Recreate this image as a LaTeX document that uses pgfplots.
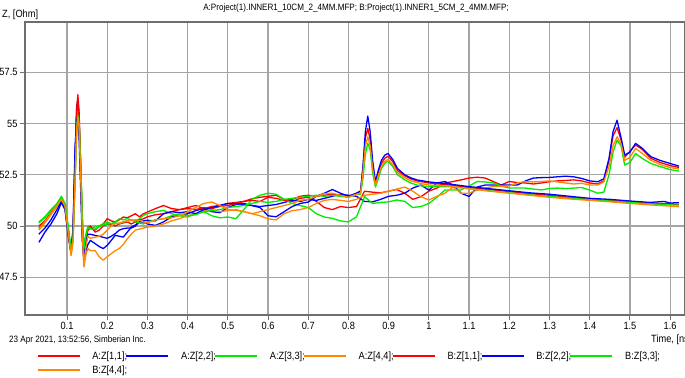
\documentclass[border=0pt]{standalone}
\usepackage{fontspec}
\setmainfont{Liberation Sans}[FakeStretch=0.88]
\usepackage{pgfplots}
\pgfplotsset{compat=1.18}
\newcommand\lbl{\fontsize{10.5bp}{12bp}\selectfont}
\newcommand\ttl{\fontsize{9.2bp}{11bp}\selectfont}
\newcommand\stamp{\fontsize{9.2bp}{11bp}\selectfont}
\definecolor{zred}{RGB}{255,0,0}
\definecolor{zblue}{RGB}{0,0,255}
\definecolor{zgreen}{RGB}{0,235,0}
\definecolor{zorange}{RGB}{255,136,0}
\definecolor{gridgray}{RGB}{165,165,165}
\definecolor{framegray}{RGB}{110,110,110}
\begin{document}
\begin{tikzpicture}[x=1bp,y=1bp]
\path[use as bounding box] (0,0) rectangle (685,377);
\begin{axis}[
  at={(25bp,62bp)}, anchor=south west,
  scale only axis, width=660bp, height=293bp,
  xmin=-0.0045, xmax=1.637, ymin=45.66, ymax=59.95,
  xtick={0.1,0.2,0.3,0.4,0.5,0.6,0.7,0.8,0.9,1,1.1,1.2,1.3,1.4,1.5,1.6},
  ytick={47.5,50,52.5,55,57.5},
  /pgf/number format/assume math mode=true,
  tick label style={font=\lbl},
  grid=major, major grid style={gridgray, line width=1.2bp},
  axis line style={framegray, line width=1.2bp},
  tick style={framegray, line width=1bp},
  tick align=outside, major tick length=5bp,
  xtick pos=bottom, ytick pos=left,
  every x tick label/.append style={yshift=1bp},
  every y tick label/.append style={xshift=1bp},
  no markers,
  every axis plot/.append style={line width=1.3bp, line join=round},
  legend columns=7,
  legend cell align=left,
  legend image code/.code={\draw[#1] plot coordinates {(0bp,0bp) (21bp,0bp) (42bp,0bp)};},
  legend style={draw=none, fill=none, at={(axis description cs:0,0)},
    anchor=north west, xshift=12bp, yshift=-34.5bp,
    inner sep=0pt, outer sep=0pt, row sep=1bp, font=\lbl,
    /tikz/every odd column/.append style={column sep=10bp},
    /tikz/every even column/.append style={column sep=-3.4bp}},
]
% ---- A: 10 cm line ----
\addplot[zred] coordinates {
(0.03,49.9)(0.045,50.2)(0.06,50.6)(0.075,51.0)(0.086,51.38)(0.095,51.0)(0.103,49.8)(0.11,48.7)(0.115,49.6)(0.12,53.0)(0.124,55.8)(0.127,56.4)(0.13,55.6)(0.134,53.0)(0.138,50.2)(0.142,48.6)(0.147,49.3)(0.152,49.8)(0.158,49.9)
(0.17,49.8)(0.18,50.0)(0.19,50.1)(0.2,50.36)(0.21,50.25)(0.22,50.2)(0.23,50.3)(0.24,50.44)(0.25,50.4)(0.26,50.5)(0.27,50.6)(0.28,50.45)(0.29,50.6)(0.3,50.68)(0.32,50.85)(0.34,51.0)(0.36,50.85)(0.38,50.8)(0.4,50.9)(0.42,51.0)(0.44,50.85)(0.46,50.95)(0.48,51.0)(0.5,51.1)(0.52,51.15)(0.54,51.2)(0.56,51.33)(0.58,51.4)(0.6,51.45)(0.62,51.5)(0.64,51.3)(0.66,51.2)(0.68,51.35)(0.7,51.4)(0.72,51.2)(0.74,50.9)(0.76,50.8)(0.78,50.95)(0.8,50.9)(0.82,50.95)
(0.84,51.7)(0.86,51.65)(0.88,51.62)(0.9,51.7)(0.92,51.78)(0.94,51.6)(0.96,51.3)(0.98,51.43)(1.0,51.7)(1.02,51.85)(1.04,52.1)(1.06,52.17)(1.08,52.25)(1.1,52.34)(1.12,52.38)(1.14,52.34)(1.16,52.17)(1.18,52.0)(1.2,52.17)(1.22,52.12)(1.24,52.1)(1.26,52.05)(1.28,52.1)(1.3,52.16)(1.32,52.2)(1.34,52.22)(1.36,52.25)(1.38,52.2)(1.4,52.1)(1.42,52.05)(1.435,52.2)(1.448,53.2)(1.458,54.4)(1.468,54.8)(1.478,54.2)(1.487,53.35)(1.5,53.65)(1.514,53.95)(1.53,53.75)(1.552,53.3)(1.575,53.1)(1.6,52.95)(1.622,52.85)};
\addlegendentry{A:Z[1,1];}
\addplot[zblue] coordinates {
(0.03,49.2)(0.045,49.7)(0.06,50.1)(0.075,50.6)(0.086,51.15)(0.095,50.8)(0.103,49.5)(0.11,48.75)(0.115,49.8)(0.12,53.5)(0.124,55.7)(0.127,56.1)(0.13,55.1)(0.134,52.2)(0.138,49.5)(0.142,48.3)(0.147,48.8)(0.152,49.1)(0.158,49.3)
(0.17,49.14)(0.18,49.0)(0.19,48.9)(0.2,49.06)(0.21,49.3)(0.22,49.55)(0.23,49.5)(0.24,49.46)(0.25,49.7)(0.26,49.95)(0.27,50.05)(0.28,50.2)(0.29,50.2)(0.3,50.1)(0.32,50.03)(0.34,50.2)(0.36,50.45)(0.38,50.52)(0.4,50.6)(0.42,50.75)(0.44,50.85)(0.46,50.7)(0.48,50.65)(0.5,50.9)(0.52,51.05)(0.54,51.1)(0.56,51.0)(0.58,50.95)(0.6,51.0)(0.62,51.05)(0.64,51.15)(0.66,51.25)(0.68,51.2)(0.7,51.3)(0.72,51.25)(0.74,51.35)(0.76,51.45)(0.78,51.55)(0.8,51.5)(0.82,51.45)
(0.84,51.2)(0.86,51.18)(0.88,51.3)(0.9,51.45)(0.92,51.5)(0.94,51.6)(0.96,51.85)(0.98,52.0)(1.0,51.75)(1.02,52.1)(1.04,52.17)(1.06,52.0)(1.08,51.6)(1.1,51.44)(1.12,51.9)(1.14,52.0)(1.16,52.0)(1.18,52.0)(1.2,52.0)(1.22,52.0)(1.24,52.2)(1.26,52.34)(1.28,52.36)(1.3,52.37)(1.32,52.4)(1.34,52.43)(1.36,52.4)(1.38,52.32)(1.4,52.2)(1.42,52.16)(1.435,52.3)(1.448,53.3)(1.458,54.6)(1.468,55.16)(1.478,54.3)(1.487,53.46)(1.5,53.6)(1.514,54.03)(1.53,53.8)(1.552,53.38)(1.575,53.2)(1.6,53.05)(1.622,52.92)};
\addlegendentry{A:Z[2,2];}
\addplot[zgreen] coordinates {
(0.03,50.2)(0.045,50.45)(0.06,50.8)(0.075,51.1)(0.086,51.45)(0.095,51.1)(0.103,50.0)(0.11,48.9)(0.115,49.5)(0.12,52.5)(0.124,55.0)(0.127,55.5)(0.13,55.2)(0.134,53.2)(0.138,50.6)(0.142,49.0)(0.147,49.6)(0.152,50.0)(0.158,49.9)
(0.17,49.95)(0.18,50.0)(0.19,50.1)(0.2,50.2)(0.21,50.11)(0.22,50.2)(0.23,50.35)(0.24,50.3)(0.25,50.36)(0.26,50.3)(0.27,50.25)(0.28,50.35)(0.29,50.52)(0.3,50.6)(0.32,50.7)(0.34,50.76)(0.36,50.6)(0.38,50.5)(0.4,50.44)(0.42,50.6)(0.44,50.7)(0.46,50.5)(0.48,50.4)(0.5,50.44)(0.52,50.36)(0.54,50.8)(0.56,51.3)(0.58,51.5)(0.6,51.6)(0.62,51.55)(0.64,51.3)(0.66,51.1)(0.68,51.0)(0.7,50.9)(0.72,50.6)(0.74,50.44)(0.76,50.37)(0.78,50.25)(0.8,50.2)(0.82,50.45)
(0.84,51.43)(0.86,51.1)(0.88,51.15)(0.9,51.18)(0.92,51.27)(0.94,51.2)(0.96,50.9)(0.98,50.95)(1.0,51.1)(1.02,51.4)(1.04,51.76)(1.06,51.76)(1.08,51.76)(1.1,51.95)(1.12,52.17)(1.14,52.15)(1.16,52.1)(1.18,51.95)(1.2,51.85)(1.22,51.85)(1.24,51.85)(1.26,51.8)(1.28,51.76)(1.3,51.83)(1.32,51.85)(1.34,51.83)(1.36,51.85)(1.38,51.88)(1.4,51.75)(1.42,51.6)(1.435,51.65)(1.448,52.5)(1.458,53.6)(1.468,54.19)(1.478,53.9)(1.487,52.97)(1.5,53.1)(1.514,53.54)(1.53,53.3)(1.552,53.05)(1.575,52.9)(1.6,52.75)(1.622,52.68)};
\addlegendentry{A:Z[3,3];}
\addplot[zorange] coordinates {
(0.03,49.8)(0.045,50.15)(0.06,50.55)(0.075,50.95)(0.086,51.3)(0.095,50.9)(0.103,49.6)(0.11,48.55)(0.115,49.2)(0.12,52.0)(0.124,54.5)(0.127,55.2)(0.13,55.0)(0.134,52.8)(0.138,49.8)(0.142,48.0)(0.147,48.6)(0.152,48.9)(0.158,48.8)
(0.17,48.8)(0.18,48.5)(0.19,48.33)(0.2,48.5)(0.21,48.65)(0.22,48.8)(0.23,48.9)(0.24,49.1)(0.25,49.38)(0.26,49.6)(0.27,49.8)(0.28,49.85)(0.29,49.9)(0.3,49.95)(0.32,50.0)(0.34,50.1)(0.36,50.25)(0.38,50.36)(0.4,50.5)(0.42,50.6)(0.44,50.75)(0.46,50.8)(0.48,50.7)(0.5,50.75)(0.52,50.8)(0.54,50.7)(0.56,50.6)(0.58,50.5)(0.6,50.35)(0.62,50.3)(0.64,50.6)(0.66,50.75)(0.68,50.8)(0.7,50.9)(0.72,51.1)(0.74,51.25)(0.76,51.3)(0.78,51.25)(0.8,51.2)(0.82,51.3)
(0.84,51.5)(0.86,51.55)(0.88,51.6)(0.9,51.7)(0.92,51.8)(0.94,51.9)(0.96,51.7)(0.98,51.43)(1.0,51.27)(1.02,51.45)(1.04,51.6)(1.06,51.9)(1.08,51.6)(1.1,51.6)(1.12,51.75)(1.14,51.85)(1.16,51.93)(1.18,51.93)(1.2,51.95)(1.22,52.1)(1.24,52.17)(1.26,52.15)(1.28,52.17)(1.3,52.2)(1.32,52.15)(1.34,52.1)(1.36,52.05)(1.38,52.08)(1.4,52.0)(1.42,52.0)(1.435,52.15)(1.448,52.9)(1.458,53.9)(1.468,54.35)(1.478,54.0)(1.487,53.2)(1.5,53.35)(1.514,53.78)(1.53,53.55)(1.552,53.2)(1.575,53.0)(1.6,52.85)(1.622,52.78)};
\addlegendentry{A:Z[4,4];}
% ---- B: 5 cm line ----
\addplot[zred] coordinates {
(0.03,50.0)(0.045,50.25)(0.06,50.65)(0.075,51.05)(0.086,51.35)(0.095,50.9)(0.103,49.7)(0.11,48.75)(0.115,49.7)(0.12,53.2)(0.124,55.6)(0.127,56.2)(0.13,55.3)(0.134,52.8)(0.138,50.0)(0.142,48.7)(0.147,49.4)(0.152,49.9)(0.158,50.0)
(0.17,49.7)(0.18,49.8)(0.19,50.0)(0.2,50.1)(0.21,50.05)(0.22,50.0)(0.23,50.1)(0.24,50.15)(0.25,50.2)(0.26,50.1)(0.27,50.2)(0.28,50.3)(0.29,50.35)(0.3,50.45)(0.32,50.55)(0.34,50.6)(0.36,50.7)(0.38,50.8)(0.4,50.85)(0.42,50.8)(0.44,50.9)(0.46,50.85)(0.48,50.95)(0.5,51.0)(0.52,51.1)(0.54,51.2)(0.56,51.25)(0.58,51.2)(0.6,51.4)(0.62,51.35)(0.64,51.25)(0.66,51.3)(0.68,51.45)(0.7,51.5)(0.72,51.45)(0.74,51.5)(0.76,51.55)(0.78,51.5)(0.8,51.45)(0.82,51.6)
(0.83,51.7)(0.836,52.8)(0.842,54.3)(0.848,54.76)(0.854,54.2)(0.86,53.0)(0.867,52.1)(0.874,52.6)(0.882,53.05)(0.89,53.3)(0.898,53.4)(0.91,53.15)(0.922,52.7)(0.94,52.45)(0.955,52.3)(0.97,52.2)(0.985,52.15)(1.0,52.1)
(1.05,52.0)(1.1,51.88)(1.15,51.78)(1.2,51.68)(1.25,51.58)(1.3,51.5)(1.35,51.4)(1.4,51.3)(1.45,51.25)(1.5,51.18)(1.55,51.12)(1.6,51.08)(1.622,51.05)};
\addlegendentry{B:Z[1,1];}
\addplot[zblue] coordinates {
(0.03,49.6)(0.045,49.9)(0.06,50.3)(0.075,50.8)(0.086,51.2)(0.095,50.85)(0.103,49.6)(0.11,48.7)(0.115,49.9)(0.12,53.8)(0.124,55.2)(0.127,55.1)(0.13,54.3)(0.134,51.8)(0.138,49.3)(0.142,48.4)(0.147,49.2)(0.152,49.6)(0.158,49.6)
(0.17,49.54)(0.18,49.5)(0.19,49.45)(0.2,49.4)(0.21,49.5)(0.22,49.63)(0.23,49.8)(0.24,49.87)(0.25,49.9)(0.26,49.9)(0.27,50.0)(0.28,50.2)(0.29,50.25)(0.3,50.28)(0.32,50.25)(0.34,50.6)(0.36,50.7)(0.38,50.65)(0.4,50.7)(0.42,50.6)(0.44,50.8)(0.46,50.9)(0.48,51.0)(0.5,51.1)(0.52,51.1)(0.54,51.05)(0.56,51.0)(0.58,50.9)(0.6,50.5)(0.62,50.45)(0.64,50.7)(0.66,50.95)(0.68,51.1)(0.7,51.17)(0.72,51.45)(0.74,51.6)(0.76,51.78)(0.78,51.6)(0.8,51.45)(0.82,51.6)
(0.83,51.7)(0.836,52.9)(0.842,54.6)(0.848,55.36)(0.854,54.6)(0.86,53.2)(0.867,52.16)(0.874,52.7)(0.882,53.2)(0.89,53.45)(0.898,53.54)(0.91,53.25)(0.922,52.8)(0.94,52.5)(0.955,52.35)(0.97,52.25)(0.985,52.2)(1.0,52.15)
(1.05,52.05)(1.1,51.92)(1.15,51.82)(1.2,51.72)(1.25,51.62)(1.3,51.55)(1.35,51.45)(1.4,51.35)(1.45,51.3)(1.5,51.22)(1.55,51.15)(1.585,51.2)(1.6,51.12)(1.622,51.14)};
\addlegendentry{B:Z[2,2];}
\addplot[zgreen] coordinates {
(0.03,50.15)(0.045,50.4)(0.06,50.75)(0.075,51.05)(0.086,51.4)(0.095,51.05)(0.103,49.9)(0.11,48.85)(0.115,49.4)(0.12,52.2)(0.124,54.8)(0.127,55.4)(0.13,55.0)(0.134,53.0)(0.138,50.4)(0.142,48.9)(0.147,49.5)(0.152,49.95)(0.158,49.85)
(0.17,49.85)(0.18,49.95)(0.19,50.05)(0.2,50.1)(0.21,50.11)(0.22,50.15)(0.23,50.1)(0.24,50.2)(0.25,50.25)(0.26,50.3)(0.27,50.2)(0.28,50.15)(0.29,50.1)(0.3,50.2)(0.32,50.3)(0.34,50.35)(0.36,50.5)(0.38,50.6)(0.4,50.5)(0.42,50.55)(0.44,50.7)(0.46,50.75)(0.48,50.8)(0.5,50.9)(0.52,50.95)(0.54,51.0)(0.56,51.1)(0.58,51.2)(0.6,51.15)(0.62,51.2)(0.64,51.3)(0.66,51.35)(0.68,51.4)(0.7,51.45)(0.72,51.5)(0.74,51.45)(0.76,51.5)(0.78,51.45)(0.8,51.4)(0.82,51.55)
(0.83,51.55)(0.836,52.3)(0.842,53.5)(0.848,54.03)(0.854,53.7)(0.86,52.6)(0.867,51.9)(0.874,52.3)(0.882,52.8)(0.89,53.05)(0.898,53.17)(0.91,52.9)(0.922,52.5)(0.94,52.25)(0.955,52.1)(0.97,52.0)(0.985,51.95)(1.0,51.92)
(1.05,51.92)(1.1,51.82)(1.15,51.72)(1.2,51.62)(1.25,51.52)(1.3,51.44)(1.35,51.36)(1.4,51.28)(1.45,51.22)(1.5,51.15)(1.55,51.08)(1.6,51.03)(1.622,51.02)};
\addlegendentry{B:Z[3,3];}
\addplot[zorange] coordinates {
(0.03,49.85)(0.045,50.2)(0.06,50.6)(0.075,51.0)(0.086,51.3)(0.095,50.95)(0.103,49.7)(0.11,48.6)(0.115,49.3)(0.12,52.3)(0.124,54.8)(0.127,55.3)(0.13,54.8)(0.134,52.5)(0.138,49.6)(0.142,48.1)(0.147,49.0)(0.152,49.5)(0.158,49.4)
(0.17,49.45)(0.18,49.5)(0.19,49.6)(0.2,49.8)(0.21,50.0)(0.22,50.11)(0.23,50.15)(0.24,50.2)(0.25,50.25)(0.26,50.28)(0.27,50.3)(0.28,50.28)(0.29,50.2)(0.3,50.15)(0.32,50.3)(0.34,50.36)(0.36,50.4)(0.38,50.5)(0.4,50.7)(0.42,50.9)(0.44,51.1)(0.46,51.17)(0.48,51.0)(0.5,50.8)(0.52,50.76)(0.54,50.7)(0.56,50.6)(0.58,50.7)(0.6,50.8)(0.62,50.9)(0.64,51.0)(0.66,51.1)(0.68,51.25)(0.7,51.3)(0.72,51.45)(0.74,51.58)(0.76,51.6)(0.78,51.5)(0.8,51.4)(0.82,51.55)
(0.83,51.6)(0.836,52.6)(0.842,53.9)(0.848,54.35)(0.854,53.9)(0.86,52.8)(0.867,52.0)(0.874,52.45)(0.882,52.9)(0.89,53.15)(0.898,53.25)(0.91,53.0)(0.922,52.6)(0.94,52.35)(0.955,52.2)(0.97,52.12)(0.985,52.05)(1.0,52.0)
(1.05,51.95)(1.1,51.82)(1.15,51.7)(1.2,51.6)(1.25,51.5)(1.3,51.4)(1.35,51.32)(1.4,51.25)(1.45,51.18)(1.5,51.1)(1.55,51.03)(1.6,50.97)(1.622,50.94)};
\addlegendentry{B:Z[4,4];}
\end{axis}
\node[font=\ttl] at (356,369) {A:Project(1).INNER1\_10CM\_2\_4MM.MFP; B:Project(1).INNER1\_5CM\_2\_4MM.MFP;};
\node[font=\lbl, anchor=west, inner sep=0pt] at (2,362) {Z, [Ohm]};
\node[font=\stamp, anchor=west, inner sep=0pt] at (9,37) {23 Apr 2021, 13:52:56, Simberian Inc.};
\node[font=\lbl, anchor=west, inner sep=0pt] at (651,37) {Time, [ns]};
\end{tikzpicture}
\end{document}
